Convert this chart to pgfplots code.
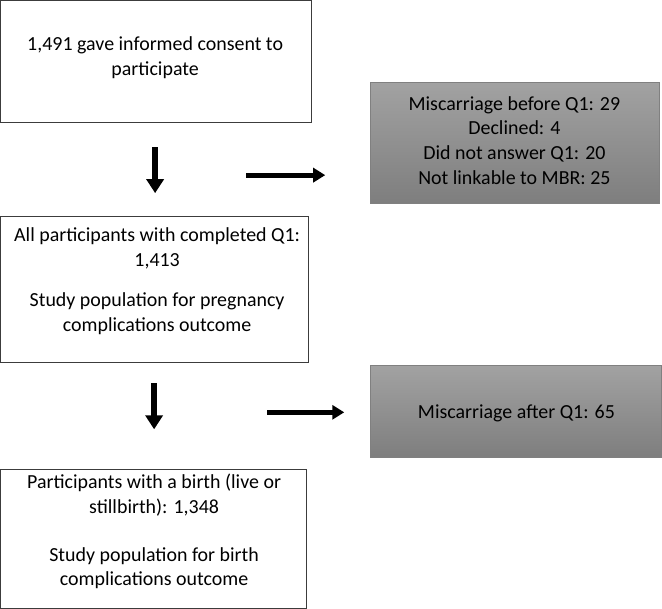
\documentclass[border=0pt]{standalone}
\usepackage{pgfplots}
\pgfplotsset{compat=1.18}
\usepackage{fontspec}
\setmainfont{Carlito}
\usetikzlibrary{arrows.meta}
\definecolor{boxline}{RGB}{60,60,60}
\definecolor{greytop}{RGB}{162,162,162}
\definecolor{greybot}{RGB}{126,126,126}
\begin{document}
\begin{tikzpicture}
\begin{axis}[
  width=662bp, height=609bp, scale only axis,
  xmin=0, xmax=662, ymin=0, ymax=609, y dir=reverse,
  hide axis, clip=false,
]
% white boxes
\addplot[draw=boxline, line width=1bp, fill=white] coordinates {(0.5,0.5) (311,0.5) (311,122) (0.5,122) (0.5,0.5)};
\addplot[draw=boxline, line width=1bp, fill=white] coordinates {(0.5,216) (308,216) (308,362) (0.5,362) (0.5,216)};
\addplot[draw=boxline, line width=1bp, fill=white] coordinates {(0.5,469) (306,469) (306,608) (0.5,608) (0.5,469)};
% grey boxes
\addplot[draw=gray, line width=1bp, top color=greytop, bottom color=greybot] coordinates {(370,82) (659,82) (659,203) (370,203) (370,82)};
\addplot[draw=gray, line width=1bp, top color=greytop, bottom color=greybot] coordinates {(370,365) (661,365) (661,457) (370,457) (370,365)};
% arrows
\addplot[black, line width=5.5bp, -{Triangle[length=14bp,width=17bp]}] coordinates {(155,147) (155,193)};
\addplot[black, line width=5bp, -{Triangle[length=12bp,width=14bp]}] coordinates {(246,175) (325,175)};
\addplot[black, line width=5.5bp, -{Triangle[length=14bp,width=17bp]}] coordinates {(154,383) (154,429)};
\addplot[black, line width=5bp, -{Triangle[length=12bp,width=14bp]}] coordinates {(267,412) (344,412)};
% texts
\node[align=center, font=\fontsize{20}{25}\selectfont, inner sep=0pt] at (axis cs:155,57.5) {1,491 gave informed consent to\\participate};
\node[align=center, font=\fontsize{20}{25}\selectfont, inner sep=0pt] at (axis cs:514,140.5) {Miscarriage before Q1: 29\\Declined: 4\\Did not answer Q1: 20\\Not linkable to MBR: 25};
\node[align=center, font=\fontsize{20}{25}\selectfont, inner sep=0pt] at (axis cs:157,281) {All participants with completed Q1:\\1,413\\[15bp]Study population for pregnancy\\complications outcome};
\node[align=center, font=\fontsize{20}{25}\selectfont, inner sep=0pt] at (axis cs:516,413) {Miscarriage after Q1: 65};
\node[align=center, font=\fontsize{20}{25}\selectfont, inner sep=0pt] at (axis cs:154,531) {Participants with a birth (live or\\stillbirth): 1,348\\[23bp]Study population for birth\\complications outcome};
\end{axis}
\end{tikzpicture}
\end{document}
